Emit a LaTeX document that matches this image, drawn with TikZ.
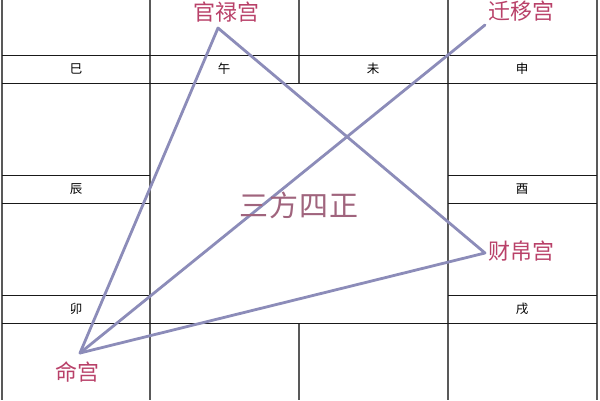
\documentclass[tikz,border=0pt]{standalone}
\usepackage{fontspec}
\setmainfont{Noto Sans CJK SC}
\newfontfamily\cjk{Noto Sans CJK SC}
\definecolor{palace}{RGB}{185,65,105}
\definecolor{tri}{RGB}{140,140,185}
\definecolor{center}{RGB}{160,100,125}
\begin{document}
\begin{tikzpicture}[x=1pt,y=-1pt,
  vline/.style={draw=black!65,line width=1.4pt},
  hline/.style={draw=black!90,line width=0.8pt},
  branch/.style={font=\cjk\fontsize{12.5}{12.5}\selectfont,inner sep=0pt},
  palacetext/.style={font=\cjk\fontsize{22}{22}\selectfont,text=palace,inner sep=0pt},
  triline/.style={draw=tri,line width=2.8pt,line cap=round,line join=round}]
\useasboundingbox (0,0) rectangle (600,400);
\fill[white] (0,0) rectangle (600,400);
% grid
\draw[vline] (2,0) -- (2,400);
\draw[vline] (597,0) -- (597,400);
\draw[vline] (150,0) -- (150,400);
\draw[vline] (448,0) -- (448,400);
\draw[vline] (299,0) -- (299,83);
\draw[vline] (299,323) -- (299,400);
\draw[hline] (2,55) -- (597,55);
\draw[hline] (2,83) -- (597,83);
\draw[hline] (2,323) -- (597,323);
\foreach \yy in {175,203,295} {
  \draw[hline] (2,\yy) -- (150,\yy);
  \draw[hline] (448,\yy) -- (597,\yy);
}
% branch labels
\node[branch] (si) at (76,69) {巳};
\node[branch] (wu) at (224,69) {午};
\node[branch] (wei) at (373,69) {未};
\node[branch] (shen) at (522,69) {申};
\node[branch] (chen) at (76,189) {辰};
\node[branch] (you) at (522,189) {酉};
\node[branch] (mao) at (76,309) {卯};
\node[branch] (xu) at (522,309) {戌};
% triangle
\coordinate (ming) at (80,353);
\coordinate (guan) at (218,28);
\coordinate (cai) at (485,253);
\coordinate (qian) at (485,25);
\draw[triline] (ming) -- (guan) -- (cai) -- cycle;
\draw[triline] (ming) -- (qian);
% palace labels
\node[palacetext] (tguan) at (226,12) {官禄宫};
\node[palacetext] (tqian) at (521,11) {迁移宫};
\node[palacetext] (tcai) at (521,251) {财帛宫};
\node[palacetext] (tming) at (77,372) {命宫};
\node[font=\cjk\fontsize{29}{29}\selectfont,text=center,inner sep=0pt] (sanfang) at (299,205) {三\kern1pt 方\kern1pt 四\kern1pt 正};
\end{tikzpicture}
\end{document}
